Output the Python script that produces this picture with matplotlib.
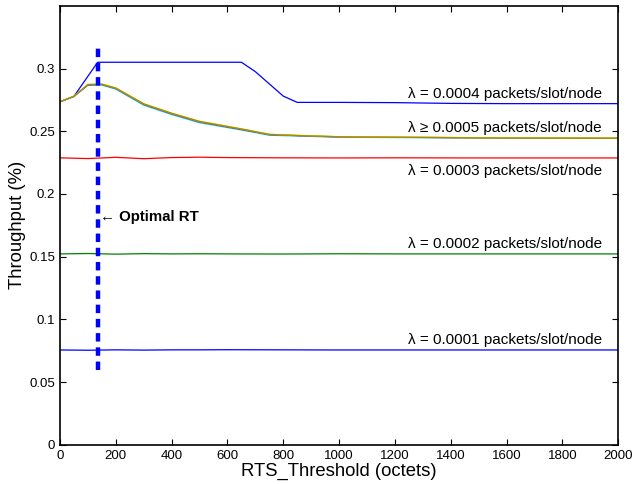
import matplotlib
matplotlib.use('Agg')
import matplotlib.pyplot as plt
import numpy as np

plt.rcParams['font.family'] = ['Liberation Sans', 'DejaVu Sans']

# lambda = 0.0004 curve
x_04 = [0, 50, 135, 650, 700, 800, 850, 1000, 1200, 1400, 1600, 2000]
y_04 = [0.2735, 0.2778, 0.3050, 0.3050, 0.2975, 0.2780, 0.2730, 0.2730, 0.2728, 0.2722, 0.2720, 0.2720]

# lambda >= 0.0005 bundle (several overlapping curves)
x_05 = [0, 50, 100, 150, 200, 300, 400, 500, 650, 750, 850, 1000, 1500, 2000]
y_05a = [0.2735, 0.2778, 0.2870, 0.2873, 0.2842, 0.2715, 0.2640, 0.2575, 0.2515, 0.2473, 0.2465, 0.2455, 0.2448, 0.2445]
y_05b = [0.2735, 0.2776, 0.2866, 0.2868, 0.2836, 0.2708, 0.2633, 0.2568, 0.2510, 0.2468, 0.2462, 0.2452, 0.2446, 0.2443]
y_05c = [0.2735, 0.2780, 0.2874, 0.2877, 0.2846, 0.2720, 0.2645, 0.2580, 0.2520, 0.2476, 0.2468, 0.2457, 0.2449, 0.2446]
y_05d = [0.2735, 0.2779, 0.2872, 0.2875, 0.2844, 0.2718, 0.2643, 0.2578, 0.2518, 0.2475, 0.2466, 0.2456, 0.2447, 0.2444]

# flat curves
x_flat = [0, 100, 200, 300, 400, 500, 600, 800, 1000, 1200, 1500, 2000]
y_03 = [0.2288, 0.2282, 0.2292, 0.2281, 0.2290, 0.2293, 0.2290, 0.2288, 0.2287, 0.2288, 0.2287, 0.2287]
y_02 = [0.1522, 0.1525, 0.1520, 0.1524, 0.1522, 0.1523, 0.1522, 0.1521, 0.1523, 0.1522, 0.1522, 0.1522]
y_01 = [0.0756, 0.0754, 0.0757, 0.0755, 0.0757, 0.0757, 0.0758, 0.0757, 0.0756, 0.0756, 0.0756, 0.0756]

optimal_rt = 135
labels = ['λ = 0.0004 packets/slot/node', 'λ ≥ 0.0005 packets/slot/node',
          'λ = 0.0003 packets/slot/node', 'λ = 0.0002 packets/slot/node',
          'λ = 0.0001 packets/slot/node']
label_y = [0.2795, 0.2525, 0.2185, 0.1600, 0.0835]

fig = plt.figure(figsize=(6.38, 4.84), dpi=100)
ax = fig.add_axes([0.094, 0.081, 0.875, 0.907])

ax.plot(x_04, y_04, color='#0000ff', lw=0.9)
ax.plot(x_05, y_05b, color='#00d0d0', lw=0.9)
ax.plot(x_05, y_05a, color='#d000d0', lw=0.9)
ax.plot(x_05, y_05c, color='#e0e000', lw=0.9)
ax.plot(x_05, y_05d, color='#a09000', lw=0.9)
ax.plot(x_flat, y_03, color='#ff0000', lw=0.9)
ax.plot(x_flat, y_02, color='#008000', lw=0.9)
ax.plot(x_flat, y_01, color='#0000ff', lw=0.9)

ax.plot([optimal_rt, optimal_rt], [0.06, 0.316], color='#0000ff', lw=3.2,
        linestyle=(0, (1.9, 1.3)))

for ly, lab in zip(label_y, labels):
    ax.text(1247, ly, lab, fontsize=11, ha='left', va='center')

ax.text(optimal_rt + 10, 0.1815, '← Optimal RT', fontsize=10.8,
        fontweight='bold', ha='left', va='center')

ax.set_xlim(0, 2000)
ax.set_ylim(0, 0.35)
ax.set_xticks(np.arange(0, 2001, 200))
ax.set_yticks([0, 0.05, 0.1, 0.15, 0.2, 0.25, 0.3])
ax.set_yticklabels(['0', '0.05', '0.1', '0.15', '0.2', '0.25', '0.3'])
ax.tick_params(direction='in', top=True, right=True, length=4, width=0.8, labelsize=9.5)
for s in ax.spines.values():
    s.set_linewidth(1.2)

ax.set_xlabel('RTS_Threshold (octets)', fontsize=13.3, labelpad=1)
ax.set_ylabel('Throughput (%)', fontsize=13.3, labelpad=2)

fig.savefig('out.png', dpi=100)
